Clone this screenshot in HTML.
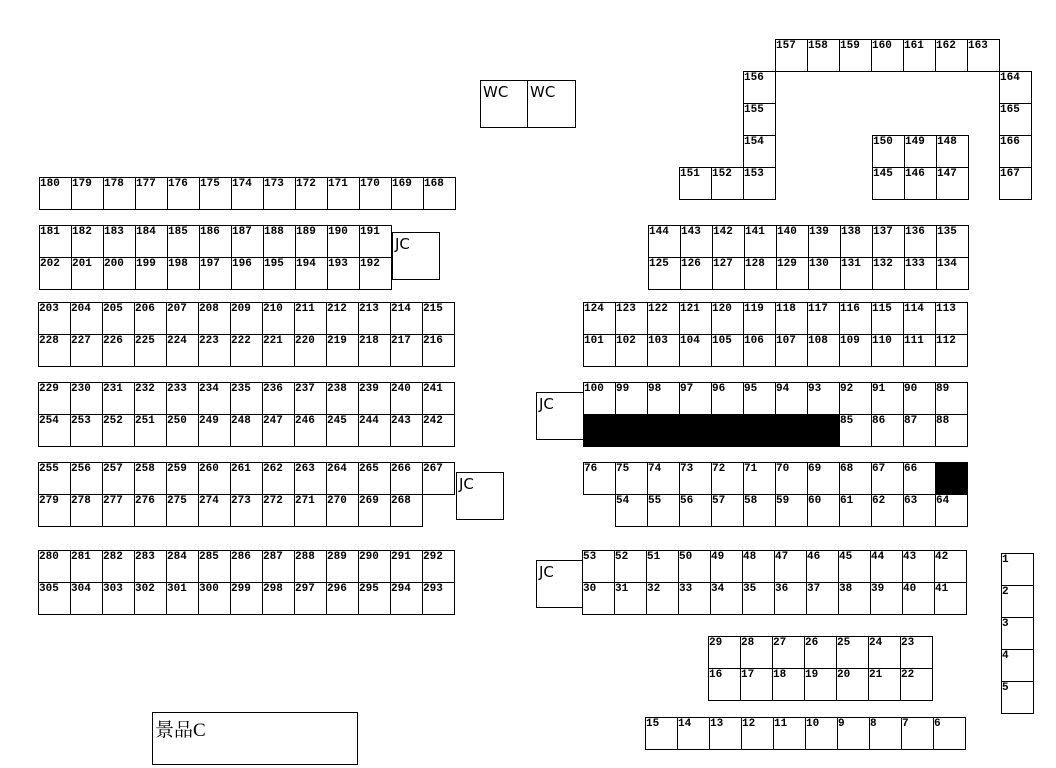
<!DOCTYPE html>
<html><head><meta charset="utf-8"><style>
body{margin:0;width:1056px;height:768px;background:#fff;position:relative;overflow:hidden}
.r{position:absolute;display:flex;white-space:nowrap}
.r b,.c{box-sizing:border-box;width:33px;height:33px;border:1px solid #000;margin-right:-1px;font:bold 11px "Liberation Mono",monospace;line-height:13px;padding-left:0;display:block;background:#fff}
.r b.k{background:#000}
.c{position:absolute}
.v{position:absolute;display:flex;flex-direction:column}
.v b{box-sizing:border-box;width:33px;height:33px;border:1px solid #000;margin-bottom:-1px;font:bold 11px "Liberation Mono",monospace;line-height:13px;display:block}
.bx{position:absolute;box-sizing:border-box;border:1px solid #000;font:15px "DejaVu Sans",sans-serif;padding:2px 0 0 2px}
</style></head><body>
<div class="bx" style="left:480px;top:80px;width:48px;height:48px">WC</div>
<div class="bx" style="left:527px;top:80px;width:49px;height:48px">WC</div>
<div class="bx" style="left:392px;top:232px;width:48px;height:48px">JC</div>
<div class="bx" style="left:456px;top:472px;width:48px;height:48px">JC</div>
<div class="bx" style="left:536px;top:392px;width:48px;height:48px">JC</div>
<div class="bx" style="left:536px;top:560px;width:48px;height:48px">JC</div>
<div class="bx" style="left:152px;top:712px;width:206px;height:53px;font:19px 'Liberation Serif','Noto Serif CJK SC',serif">景品C</div>

<div class="r" style="left:39px;top:177px"><b>180</b><b>179</b><b>178</b><b>177</b><b>176</b><b>175</b><b>174</b><b>173</b><b>172</b><b>171</b><b>170</b><b>169</b><b>168</b></div>
<div class="r" style="left:39px;top:225px"><b>181</b><b>182</b><b>183</b><b>184</b><b>185</b><b>186</b><b>187</b><b>188</b><b>189</b><b>190</b><b>191</b></div>
<div class="r" style="left:39px;top:257px"><b>202</b><b>201</b><b>200</b><b>199</b><b>198</b><b>197</b><b>196</b><b>195</b><b>194</b><b>193</b><b>192</b></div>
<div class="r" style="left:38px;top:302px"><b>203</b><b>204</b><b>205</b><b>206</b><b>207</b><b>208</b><b>209</b><b>210</b><b>211</b><b>212</b><b>213</b><b>214</b><b>215</b></div>
<div class="r" style="left:38px;top:334px"><b>228</b><b>227</b><b>226</b><b>225</b><b>224</b><b>223</b><b>222</b><b>221</b><b>220</b><b>219</b><b>218</b><b>217</b><b>216</b></div>
<div class="r" style="left:38px;top:382px"><b>229</b><b>230</b><b>231</b><b>232</b><b>233</b><b>234</b><b>235</b><b>236</b><b>237</b><b>238</b><b>239</b><b>240</b><b>241</b></div>
<div class="r" style="left:38px;top:414px"><b>254</b><b>253</b><b>252</b><b>251</b><b>250</b><b>249</b><b>248</b><b>247</b><b>246</b><b>245</b><b>244</b><b>243</b><b>242</b></div>
<div class="r" style="left:38px;top:462px"><b>255</b><b>256</b><b>257</b><b>258</b><b>259</b><b>260</b><b>261</b><b>262</b><b>263</b><b>264</b><b>265</b><b>266</b><b>267</b></div>
<div class="r" style="left:38px;top:494px"><b>279</b><b>278</b><b>277</b><b>276</b><b>275</b><b>274</b><b>273</b><b>272</b><b>271</b><b>270</b><b>269</b><b>268</b></div>
<div class="r" style="left:38px;top:550px"><b>280</b><b>281</b><b>282</b><b>283</b><b>284</b><b>285</b><b>286</b><b>287</b><b>288</b><b>289</b><b>290</b><b>291</b><b>292</b></div>
<div class="r" style="left:38px;top:582px"><b>305</b><b>304</b><b>303</b><b>302</b><b>301</b><b>300</b><b>299</b><b>298</b><b>297</b><b>296</b><b>295</b><b>294</b><b>293</b></div>

<div class="r" style="left:775px;top:39px"><b>157</b><b>158</b><b>159</b><b>160</b><b>161</b><b>162</b><b>163</b></div>
<div class="v" style="left:743px;top:71px"><b>156</b><b>155</b><b>154</b><b>153</b></div>
<div class="v" style="left:999px;top:71px"><b>164</b><b>165</b><b>166</b><b>167</b></div>
<div class="r" style="left:679px;top:167px"><b>151</b><b>152</b></div>
<div class="r" style="left:872px;top:135px"><b>150</b><b>149</b><b>148</b></div>
<div class="r" style="left:872px;top:167px"><b>145</b><b>146</b><b>147</b></div>
<div class="r" style="left:648px;top:225px"><b>144</b><b>143</b><b>142</b><b>141</b><b>140</b><b>139</b><b>138</b><b>137</b><b>136</b><b>135</b></div>
<div class="r" style="left:648px;top:257px"><b>125</b><b>126</b><b>127</b><b>128</b><b>129</b><b>130</b><b>131</b><b>132</b><b>133</b><b>134</b></div>
<div class="r" style="left:583px;top:302px"><b>124</b><b>123</b><b>122</b><b>121</b><b>120</b><b>119</b><b>118</b><b>117</b><b>116</b><b>115</b><b>114</b><b>113</b></div>
<div class="r" style="left:583px;top:334px"><b>101</b><b>102</b><b>103</b><b>104</b><b>105</b><b>106</b><b>107</b><b>108</b><b>109</b><b>110</b><b>111</b><b>112</b></div>
<div class="r" style="left:583px;top:382px"><b>100</b><b>99</b><b>98</b><b>97</b><b>96</b><b>95</b><b>94</b><b>93</b><b>92</b><b>91</b><b>90</b><b>89</b></div>
<div class="r" style="left:583px;top:414px"><b class="k"></b><b class="k"></b><b class="k"></b><b class="k"></b><b class="k"></b><b class="k"></b><b class="k"></b><b class="k"></b><b>85</b><b>86</b><b>87</b><b>88</b></div>
<div class="r" style="left:583px;top:462px"><b>76</b><b>75</b><b>74</b><b>73</b><b>72</b><b>71</b><b>70</b><b>69</b><b>68</b><b>67</b><b>66</b><b class="k"></b></div>
<div class="r" style="left:615px;top:494px"><b>54</b><b>55</b><b>56</b><b>57</b><b>58</b><b>59</b><b>60</b><b>61</b><b>62</b><b>63</b><b>64</b></div>
<div class="r" style="left:582px;top:550px"><b>53</b><b>52</b><b>51</b><b>50</b><b>49</b><b>48</b><b>47</b><b>46</b><b>45</b><b>44</b><b>43</b><b>42</b></div>
<div class="r" style="left:582px;top:582px"><b>30</b><b>31</b><b>32</b><b>33</b><b>34</b><b>35</b><b>36</b><b>37</b><b>38</b><b>39</b><b>40</b><b>41</b></div>
<div class="r" style="left:708px;top:636px"><b>29</b><b>28</b><b>27</b><b>26</b><b>25</b><b>24</b><b>23</b></div>
<div class="r" style="left:708px;top:668px"><b>16</b><b>17</b><b>18</b><b>19</b><b>20</b><b>21</b><b>22</b></div>
<div class="r" style="left:645px;top:717px"><b>15</b><b>14</b><b>13</b><b>12</b><b>11</b><b>10</b><b>9</b><b>8</b><b>7</b><b>6</b></div>
<div class="v" style="left:1001px;top:553px"><b>1</b><b>2</b><b>3</b><b>4</b><b>5</b></div>
</body></html>
